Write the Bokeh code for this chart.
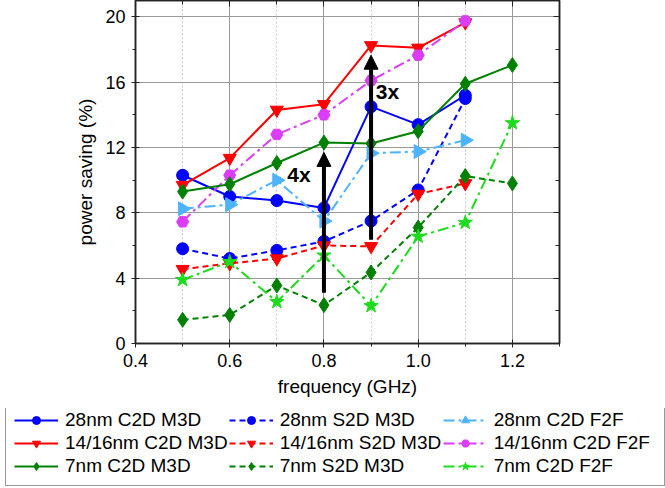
import math
from bokeh.plotting import figure
from bokeh.models import (Range1d, FixedTicker, LinearAxis, Legend, LegendItem,
                          Arrow, NormalHead, Label, PrintfTickFormatter)
from bokeh.embed import file_html
from bokeh.resources import INLINE

# ---------------- data ----------------
freq7 = [0.5, 0.6, 0.7, 0.8, 0.9, 1.0, 1.1]
freq8 = [0.5, 0.6, 0.7, 0.8, 0.9, 1.0, 1.1, 1.2]

nm28_c2d_m3d = [10.3, 9.0, 8.75, 8.3, 14.5, 13.4, 15.2]
nm28_s2d_m3d = [5.8, 5.2, 5.7, 6.25, 7.5, 9.4, 15.0]
nm28_c2d_f2f = [8.25, 8.5, 10.0, 7.5, 11.65, 11.75, 12.45]
nm14_c2d_m3d = [9.7, 11.35, 14.3, 14.65, 18.25, 18.1, 19.65]
nm14_s2d_m3d = [4.55, 4.9, 5.2, 6.0, 5.95, 9.15, 9.8]
nm14_c2d_f2f = [7.45, 10.3, 12.8, 14.0, 16.1, 17.65, 19.75]
nm7_c2d_m3d = [9.3, 9.75, 11.05, 12.3, 12.25, 13.0, 15.9, 17.05]
nm7_s2d_m3d = [1.45, 1.75, 3.55, 2.35, 4.35, 7.1, 10.25, 9.8]
nm7_c2d_f2f = [3.9, 5.0, 2.55, 5.4, 2.3, 6.55, 7.4, 13.5]

x_major = [0.4, 0.6, 0.8, 1.0, 1.2]
x_minor = [0.5, 0.7, 0.9, 1.1, 1.3]
y_major = [0, 4, 8, 12, 16, 20]
y_minor = [2, 6, 10, 14, 18]

# annotations: arrow (x, start, end) and labels
arrow_4x = (0.8, 3.1, 11.7)
arrow_3x = (0.9, 6.35, 17.65)
label_4x = (0.722, 10.35, "4x")
label_3x = (0.91, 15.45, "3x")

FONT = "Liberation Sans"

p = figure(width=665, height=408, output_backend="svg", toolbar_location=None,
           x_range=Range1d(0.4, 1.3), y_range=Range1d(0, 21),
           min_border_left=135, min_border_right=106, min_border_top=0,
           min_border_bottom=65)
p.background_fill_color = "white"
p.border_fill_color = "white"
p.outline_line_color = "#222222"
p.outline_line_width = 1.5

# axes
for ax in (p.xaxis[0], p.yaxis[0]):
    ax.axis_line_color = "#222222"
    ax.axis_line_width = 1.5
    ax.major_tick_line_color = "#222222"
    ax.minor_tick_line_color = "#222222"
    ax.major_label_text_font = FONT
    ax.major_label_text_font_size = "18px"
    ax.major_label_text_color = "black"
    ax.axis_label_text_font = FONT
    ax.axis_label_text_font_size = "19px"
    ax.axis_label_text_font_style = "normal"
    ax.axis_label_text_color = "black"
    ax.major_tick_in = 4
    ax.major_tick_out = 4
    ax.minor_tick_in = 0
    ax.minor_tick_out = 3

p.xaxis[0].ticker = FixedTicker(ticks=x_major, minor_ticks=x_minor)
p.xaxis[0].formatter = PrintfTickFormatter(format="%.1f")
p.yaxis[0].ticker = FixedTicker(ticks=y_major, minor_ticks=y_minor)
p.xaxis[0].axis_label = "frequency (GHz)"
p.yaxis[0].axis_label = "power saving (%)"
p.xaxis[0].major_label_standoff = 6
p.yaxis[0].major_label_standoff = 6
p.xaxis[0].axis_label_standoff = 6
p.yaxis[0].axis_label_standoff = 6

# top and right axes: ticks only
for loc, tk in (("above", FixedTicker(ticks=x_major, minor_ticks=x_minor)),
                ("right", FixedTicker(ticks=y_major, minor_ticks=y_minor))):
    ax = LinearAxis(ticker=tk)
    ax.major_label_text_font_size = "0px"
    ax.major_label_text_color = None
    ax.major_label_standoff = 0
    ax.axis_line_color = "#222222"
    ax.axis_line_width = 1.5
    ax.major_tick_in = 6
    ax.major_tick_out = 0
    ax.minor_tick_in = 4
    ax.minor_tick_out = 0
    ax.major_tick_line_color = "#222222"
    ax.minor_tick_line_color = "#222222"
    p.add_layout(ax, loc)

# grids
p.xgrid.grid_line_color = "#9a9a9a"
p.xgrid.grid_line_width = 1
p.xgrid.minor_grid_line_color = "#c8c8c8"
p.xgrid.minor_grid_line_dash = "2 2"
p.xgrid.minor_grid_line_width = 1
p.xgrid.ticker = FixedTicker(ticks=x_major, minor_ticks=x_minor)
p.ygrid.grid_line_color = "#9a9a9a"
p.ygrid.grid_line_width = 1
p.ygrid.ticker = FixedTicker(ticks=y_major, minor_ticks=y_minor)

SOLID = "solid"
DASH = "6 4"
DASHDOT = "11 4 3 4"

series = [
    ("28nm C2D M3D", freq7, nm28_c2d_m3d, "#0000FF", SOLID, "circle", 12, 0),
    ("28nm S2D M3D", freq7, nm28_s2d_m3d, "#0000FF", DASH, "circle", 12, 0),
    ("28nm C2D F2F", freq7, nm28_c2d_f2f, "#4DB3FF", DASHDOT, "triangle", 14, -math.pi / 2),
    ("14/16nm C2D M3D", freq7, nm14_c2d_m3d, "#FF0000", SOLID, "inverted_triangle", 13, 0),
    ("14/16nm S2D M3D", freq7, nm14_s2d_m3d, "#FF0000", DASH, "inverted_triangle", 13, 0),
    ("14/16nm C2D F2F", freq7, nm14_c2d_f2f, "#DA3CF7", DASHDOT, "hex", 12, 0),
    ("7nm C2D M3D", freq8, nm7_c2d_m3d, "#008000", SOLID, "diamond", 15, 0),
    ("7nm S2D M3D", freq8, nm7_s2d_m3d, "#008000", DASH, "diamond", 15, 0),
    ("7nm C2D F2F", freq8, nm7_c2d_f2f, "#1DDB1D", DASHDOT, "star", 15, 0),
]

# legend figure (separate canvas below the plot); its ranges exclude the data
pl = figure(width=665, height=80, output_backend="svg", toolbar_location=None,
            x_range=Range1d(100, 101), y_range=Range1d(100, 101),
            x_axis_type=None, y_axis_type=None,
            min_border=0, min_border_left=0, min_border_right=0,
            min_border_top=0, min_border_bottom=0)
pl.outline_line_color = None
pl.grid.visible = False
pl.background_fill_color = "white"
pl.border_fill_color = "white"

legend_items = {}
for name, xs, ys, color, dash, marker, size, ang in series:
    p.line(xs, ys, line_color=color, line_width=2, line_dash=dash)
    p.scatter(xs, ys, marker=marker, size=size, angle=ang,
              fill_color=color, line_color=color, line_width=1)
    lr = pl.line(xs, ys, line_color=color, line_width=2, line_dash=dash)
    sr = pl.scatter(xs, ys, marker=marker, size=size, angle=ang,
                    fill_color=color, line_color=color, line_width=1)
    legend_items[name] = LegendItem(label=name, renderers=[lr, sr])

# legend fills columns first: reorder so rows read like the reference
names = [s[0] for s in series]
ordered = [legend_items[names[r * 3 + c]] for c in range(3) for r in range(3)]

# arrows
for (ax_x, y0, y1) in (arrow_4x, arrow_3x):
    p.add_layout(Arrow(x_start=ax_x, y_start=y0, x_end=ax_x, y_end=y1,
                       line_color="black", line_width=4,
                       end=NormalHead(size=14, fill_color="black",
                                      line_color="black", line_width=1)))

for (lx, ly, txt) in (label_4x, label_3x):
    p.add_layout(Label(x=lx, y=ly, text=txt, text_font=FONT,
                       text_font_size="21px", text_font_style="bold",
                       text_color="black", text_baseline="middle",
                       text_align="left"))

legend = Legend(items=ordered, ncols=3, location=(5, 2))
legend.label_text_font = FONT
legend.label_text_font_size = "19px"
legend.label_text_color = "black"
legend.glyph_width = 44
legend.glyph_height = 20
legend.label_height = 20
legend.label_width = 162
legend.label_standoff = 7
legend.spacing = 1
legend.padding = 8
legend.margin = 0
legend.border_line_color = "#333333"
legend.border_line_width = 1
legend.background_fill_color = "white"
legend.background_fill_alpha = 1
pl.add_layout(legend)

open("out.html", "w").write(file_html([p, pl], INLINE))
